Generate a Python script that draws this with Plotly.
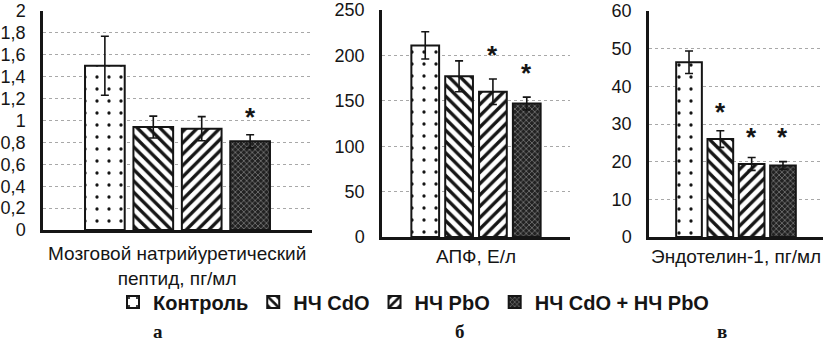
import plotly.graph_objects as go

# ---------------- data ----------------
groups = ["Контроль", "НЧ CdO", "НЧ PbO", "НЧ CdO + НЧ PbO"]

panel_titles = ["Мозговой натрийуретический<br>пептид, пг/мл", "АПФ, Е/л", "Эндотелин-1, пг/мл"]
panel_letters = ["а", "б", "в"]

bnp_values = [1.50, 0.94, 0.925, 0.81]
bnp_errors = [0.27, 0.10, 0.11, 0.06]
bnp_stars = [None, None, None, 1.08]

ace_values = [211, 177, 160, 147]
ace_errors = [15, 17, 14, 7]
ace_stars = [None, None, 206, 186]

et1_values = [46.4, 26.0, 19.4, 19.0]
et1_errors = [3.0, 2.2, 1.7, 1.0]
et1_stars = [None, 34.6, 28.0, 28.0]

y_ranges = [[0, 2], [0, 250], [0, 60]]
y_dticks = [0.2, 50, 10]

# ---------------- styling ----------------
W, H = 827, 344
FONT = "Liberation Sans, Arial, sans-serif"
INK = "#151515"

patterns = [
    dict(shape=".", fgcolor=INK, bgcolor="white", size=12, solidity=0.06, fillmode="replace"),
    dict(shape="\\", fgcolor=INK, bgcolor="white", size=8, solidity=0.42, fillmode="replace"),
    dict(shape="/", fgcolor=INK, bgcolor="white", size=8, solidity=0.42, fillmode="replace"),
    dict(shape="x", fgcolor="#8a8a8a", bgcolor="#222222", size=4, solidity=0.3, fillmode="replace"),
]

# panel geometry (pixels)
x_px = [(43, 312), (382, 570), (649, 823)]
y_px = [(230, 11), (237, 10), (237, 11)]  # (zero, top)

BARGAP = 0.28
GROUPGAP = 0.18

fig = go.Figure()

panels = [
    (bnp_values, bnp_errors, bnp_stars),
    (ace_values, ace_errors, ace_stars),
    (et1_values, et1_errors, et1_stars),
]

for p, (vals, errs, stars) in enumerate(panels):
    xa = "x" if p == 0 else f"x{p+1}"
    ya = "y" if p == 0 else f"y{p+1}"
    for i, g in enumerate(groups):
        fig.add_trace(go.Bar(
            x=[0], y=[vals[i]], name=g, xaxis=xa, yaxis=ya,
            legendgroup=g, showlegend=(p == 0),
            marker=dict(color=patterns[i]["bgcolor"], pattern=patterns[i],
                        line=dict(color=INK, width=2)),
            error_y=dict(type="data", array=[errs[i]], color=INK, thickness=1.6, width=4),
            hoverinfo="skip",
        ))
    slot = (1 - BARGAP) / len(groups)
    for i, s in enumerate(stars):
        if s is None:
            continue
        fig.add_annotation(
            x=-(1 - BARGAP) / 2 + (i + 0.5) * slot, y=s, xref=xa, yref=ya,
            text="<b>*</b>", showarrow=False, yanchor="middle", yshift=-5,
            font=dict(family=FONT, size=26, color=INK),
        )

layout_axes = {}
for p in range(3):
    xk = "xaxis" if p == 0 else f"xaxis{p+1}"
    yk = "yaxis" if p == 0 else f"yaxis{p+1}"
    x0, x1 = x_px[p]
    yz, yt = y_px[p]
    layout_axes[xk] = dict(
        domain=[x0 / W, x1 / W], range=[-0.5, 0.5], anchor=("y" if p == 0 else f"y{p+1}"),
        showticklabels=False, ticks="", showgrid=False, zeroline=False,
        showline=True, linecolor=INK, linewidth=2.5, fixedrange=True,
    )
    layout_axes[yk] = dict(
        domain=[1 - yz / H, 1 - yt / H], range=y_ranges[p], dtick=y_dticks[p],
        anchor=("x" if p == 0 else f"x{p+1}"),
        showline=True, linecolor=INK, linewidth=2.5, zeroline=False,
        showgrid=True, gridcolor="#a8a8a8", griddash="dot", gridwidth=1,
        ticks="", ticklabelstandoff=11,
        tickfont=dict(family=FONT, size=18, color=INK), automargin=False,
    )

fig.update_layout(**layout_axes)

# axis titles under each panel
title_pos = [(177, 266), (476, 256), (736, 256)]
for p, t in enumerate(panel_titles):
    cx, cy = title_pos[p]
    fig.add_annotation(
        x=cx / W, y=1 - cy / H, xref="paper", yref="paper", text=t, showarrow=False,
        xanchor="center", yanchor="middle", align="center",
        font=dict(family=FONT, size=19, color=INK),
    )

letter_x = [158, 460, 722]
for p, t in enumerate(panel_letters):
    fig.add_annotation(
        x=letter_x[p] / W, y=1 / H, xref="paper", yref="paper", text=f"<b>{t}</b>",
        showarrow=False, xanchor="center", yanchor="bottom", borderpad=0,
        font=dict(family="Liberation Serif, Times New Roman, serif", size=19, color=INK),
    )

fig.update_layout(
    width=W, height=H,
    margin=dict(l=0, r=0, t=0, b=0),
    paper_bgcolor="white", plot_bgcolor="white",
    barmode="group", bargap=BARGAP, bargroupgap=GROUPGAP,
    separators=", ",
    showlegend=True,
    legend=dict(
        orientation="h", x=0.5, xanchor="center", y=1 - 302 / H, yanchor="middle",
        font=dict(family=FONT, size=20, color=INK, weight="bold"),
        itemwidth=30, tracegroupgap=0, bgcolor="rgba(0,0,0,0)",
        itemclick=False, itemdoubleclick=False,
    ),
)

fig.write_html("out.html")
